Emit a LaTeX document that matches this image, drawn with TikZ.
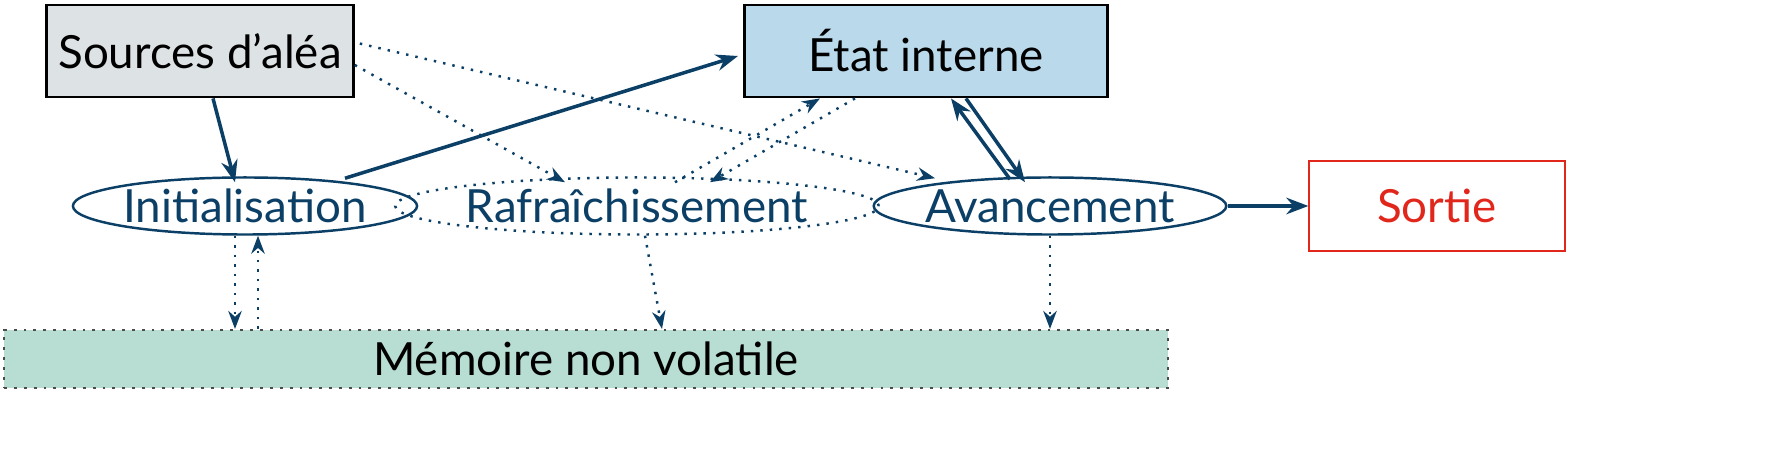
\documentclass[tikz,border=0pt]{standalone}
\usepackage{fontspec}
\setmainfont{Lato}
\usetikzlibrary{positioning,shapes.geometric,arrows.meta,calc}
\definecolor{navy}{HTML}{0B3F66}
\definecolor{grayfill}{HTML}{DDE2E5}
\definecolor{bluefill}{HTML}{BAD9EA}
\definecolor{greenfill}{HTML}{B8DDD2}
\definecolor{outred}{HTML}{E1261C}
\tikzset{
  box/.style={draw,line width=0.8pt,minimum height=0.92cm,font=\fontsize{13}{15}\selectfont},
  phase/.style={ellipse,draw=navy,line width=0.7pt,text=navy,minimum height=0.57cm,inner sep=0pt,font=\fontsize{13}{15}\selectfont},
  flow/.style={navy,line width=1pt,-{Stealth[length=2.2mm]}},
  weak/.style={navy,dotted,line width=0.7pt,-{Stealth[length=1.8mm]}}
}
\begin{document}
\begin{tikzpicture}[x=0.01cm,y=-0.01cm]
  % boxes
  \node[box,fill=grayfill,minimum width=2.9cm] (src) at (200,51) {Sources d’aléa};
  \node[box,fill=bluefill,minimum width=3.63cm] (state) at (926,51) {État interne};
  \node[box,draw=outred,text=outred,line width=0.6pt,minimum width=2.55cm,minimum height=0.9cm] (out) at (1437,206) {Sortie};
  \node[box,fill=greenfill,draw=black!70,dotted,line width=0.6pt,minimum width=11.63cm,minimum height=0.58cm] (mem) at (586,359) {Mémoire non volatile};
  % phases
  \node[phase,minimum width=3.26cm] (init) at (245,206) {Initialisation};
  \node[phase,dotted,minimum width=4.45cm] (refresh) at (637,206) {Rafraîchissement};
  \node[phase,minimum width=3.35cm] (step) at (1050,206) {Avancement};
  % solid arrows
  \draw[flow] ($(src.south)+(13,0)$) -- ($(init.north)+(-10,6)$);
  \draw[flow] ($(init.north)+(100,2)$) -- ($(state.west)+(-5,5)$);
  \draw[flow] ($(state.south)+(40,0)$) -- ($(step.north)+(-25,6)$);
  \draw[flow] ($(step.north)+(-40,3)$) -- ($(state.south)+(25,0)$);
  \draw[flow] (step.east) -- (out.west);
  % dotted arrows
  \draw[weak] ($(src.north east)+(5,40)$) -- ($(step.north)+(-115,2)$);
  \draw[weak] ($(src.east)+(0,14)$) -- ($(refresh.north)+(-72,6)$);
  \draw[weak] ($(refresh.north)+(38,6)$) -- ($(state.south)+(-106,0)$);
  \draw[weak] ($(state.south)+(-71,0)$) -- ($(refresh.north)+(73,6)$);
  \draw[weak] ($(init.south)+(-10,0)$) -- ($(mem.north)+(-351,0)$);
  \draw[weak] ($(mem.north)+(-328,0)$) -- ($(init.south)+(13,0)$);
  \draw[weak] ($(refresh.south)+(8,0)$) -- ($(mem.north)+(76,0)$);
  \draw[weak] (step.south) -- ($(mem.north)+(464,0)$);
  \pgfresetboundingbox
  \useasboundingbox (0,0) rectangle (1772,449);
\end{tikzpicture}
\end{document}
